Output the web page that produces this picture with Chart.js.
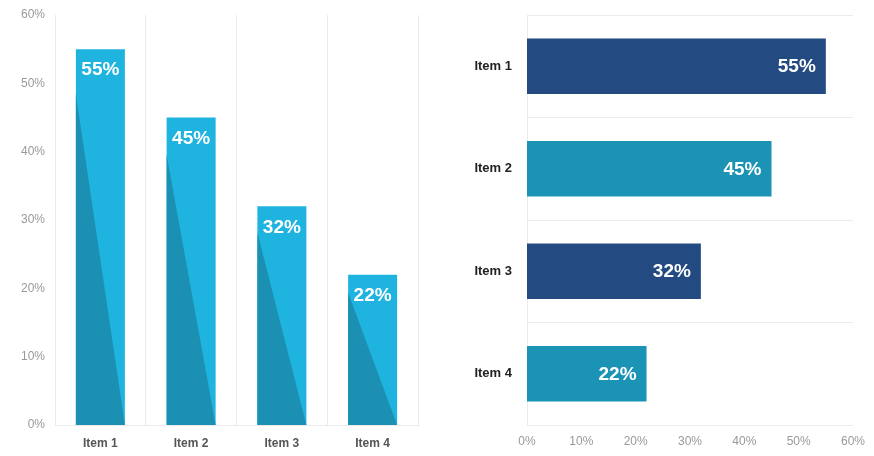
<!DOCTYPE html>
<html>
<head>
  <meta charset="utf-8">
  <title>Item Shares</title>
  <style>
    body {
      margin: 0;
      background: #ffffff;
      font-family: "Liberation Sans", Arial, sans-serif;
    }
    .panel {
      position: absolute;
      top: 0;
      width: 437px;
      height: 456px;
    }
    #leftPanel { left: 0; }
    #rightPanel { left: 437px; }
  </style>
  <script src="https://cdn.jsdelivr.net/npm/chart.js"></script>
</head>
<body>
  <div class="panel" id="leftPanel"><canvas id="colChart"></canvas></div>
  <div class="panel" id="rightPanel"><canvas id="barChart"></canvas></div>

  <script>
    // Chart data
    var categories = ["Item 1", "Item 2", "Item 3", "Item 4"];
    var shares = [55, 45, 32, 22];
    var axisTicks = [0, 10, 20, 30, 40, 50, 60];

    var FONT = '"Liberation Sans", Arial, sans-serif';
    var gridColor = '#ebebeb';
    var pct = function(v) { return v + '%'; };

    // Darker triangle inside each column (shadow effect)
    var shadowPlugin = {
      id: 'shadow',
      afterDatasetDraw: function(chart, args) {
        var ctx = chart.ctx;
        args.meta.data.forEach(function(bar) {
          var p = bar.getProps(['x', 'y', 'base', 'width'], true);
          var l = p.x - p.width / 2, r = p.x + p.width / 2;
          var h = p.base - p.y;
          ctx.save();
          ctx.fillStyle = '#1b90b2';
          ctx.beginPath();
          ctx.moveTo(l, p.y + h * 0.12);
          ctx.lineTo(l, p.base);
          ctx.lineTo(r, p.base);
          ctx.closePath();
          ctx.fill();
          ctx.restore();
        });
      }
    };

    // White value labels drawn on the bars
    var valueLabels = {
      id: 'valueLabels',
      afterDatasetsDraw: function(chart) {
        var ctx = chart.ctx;
        var horizontal = chart.options.indexAxis === 'y';
        var meta = chart.getDatasetMeta(0);
        ctx.save();
        ctx.fillStyle = '#ffffff';
        ctx.font = 'bold 19px ' + FONT;
        meta.data.forEach(function(bar, i) {
          var p = bar.getProps(['x', 'y'], true);
          var text = pct(chart.data.datasets[0].data[i]);
          if (horizontal) {
            ctx.textAlign = 'right';
            ctx.textBaseline = 'middle';
            ctx.fillText(text, p.x - 10, p.y + 1);
          } else {
            ctx.textAlign = 'center';
            ctx.textBaseline = 'middle';
            ctx.fillText(text, p.x, p.y + 21);
          }
        });
        ctx.restore();
      }
    };

    // fixed width for vertical axes, no extra top/bottom room for labels
    function fixWidth(w) {
      return function(s) {
        s.width = w;
        s.paddingTop = 0;
        s.paddingBottom = 0;
      };
    }

    // Left: column chart
    new Chart(document.getElementById('colChart'), {
      type: 'bar',
      data: {
        labels: categories,
        datasets: [{
          data: shares,
          backgroundColor: '#1fb3df',
          barPercentage: 0.54,
          categoryPercentage: 1.0
        }]
      },
      options: {
        responsive: true,
        maintainAspectRatio: false,
        animation: false,
        layout: { padding: { top: 15, right: 19, left: 0, bottom: 0 } },
        plugins: { legend: { display: false }, tooltip: { enabled: false } },
        scales: {
          x: {
            grid: { color: gridColor, drawTicks: false, offset: true },
            border: { color: gridColor },
            ticks: { color: '#555', padding: 11, font: { family: FONT, size: 12, weight: 'bold' } },
            afterFit: function(s) { s.height = 31; }
          },
          y: {
            min: 0,
            max: 60,
            afterBuildTicks: function(s) { s.ticks = axisTicks.map(function(v) { return { value: v }; }); },
            grid: { display: false, drawTicks: false },
            border: { color: gridColor },
            ticks: { color: '#999', padding: 10, callback: pct, font: { family: FONT, size: 12 } },
            afterFit: fixWidth(55)
          }
        }
      },
      plugins: [shadowPlugin, valueLabels]
    });

    // Right: horizontal bar chart
    new Chart(document.getElementById('barChart'), {
      type: 'bar',
      data: {
        labels: categories,
        datasets: [{
          data: shares,
          backgroundColor: ['#234b82', '#1b93b5', '#234b82', '#1b93b5'],
          barPercentage: 0.54,
          categoryPercentage: 1.0
        }]
      },
      options: {
        indexAxis: 'y',
        responsive: true,
        maintainAspectRatio: false,
        animation: false,
        layout: { padding: { top: 15, right: 19, left: 0, bottom: 0 } },
        plugins: { legend: { display: false }, tooltip: { enabled: false } },
        scales: {
          x: {
            min: 0,
            max: 60,
            afterBuildTicks: function(s) { s.ticks = axisTicks.map(function(v) { return { value: v }; }); },
            grid: { display: false, drawTicks: false },
            border: { display: false },
            ticks: { color: '#999', padding: 9, callback: pct, font: { family: FONT, size: 12 } },
            afterFit: function(s) { s.height = 31; }
          },
          y: {
            grid: { color: gridColor, drawTicks: false, offset: true },
            border: { color: gridColor },
            ticks: { color: '#222', padding: 15, font: { family: FONT, size: 13, weight: 'bold' } },
            afterFit: fixWidth(90)
          }
        }
      },
      plugins: [valueLabels]
    });
  </script>
</body>
</html>
